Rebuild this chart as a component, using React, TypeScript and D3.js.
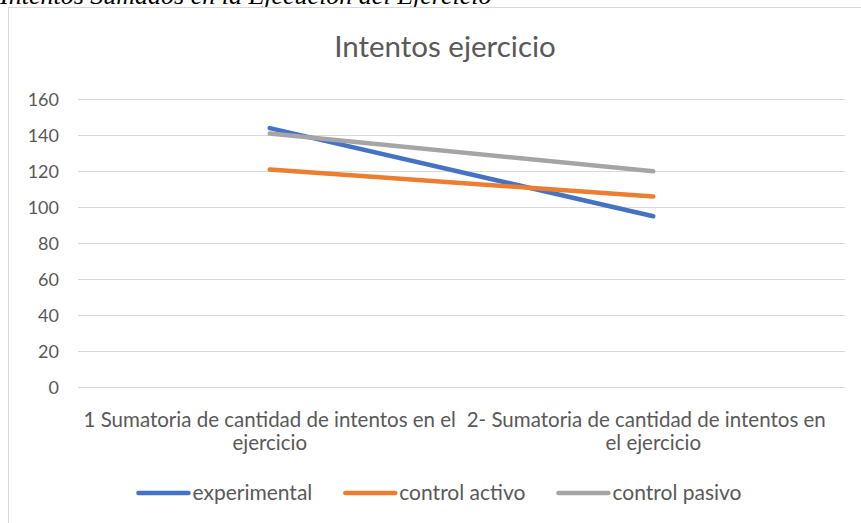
import { useRef, useEffect } from 'react';
import * as d3 from 'd3';

const W = 861;
const H = 523;

const categories = ['cat1', 'cat2'];
const categoryLines = [
  ['1 Sumatoria de cantidad de intentos en el', 'ejercicio'],
  ['2- Sumatoria de cantidad de intentos en', 'el ejercicio'],
];
const seriesNames = ['experimental', 'control activo', 'control pasivo'];
const experimental = [144, 95];
const controlActivo = [121, 106];
const controlPasivo = [141, 120];
const yTicks = [0, 20, 40, 60, 80, 100, 120, 140, 160];

const COLORS = ['#4472C4', '#ED7D31', '#A5A5A5'];
const TEXT = '#595959';
const GRID = '#d9d9d9';
const FONT = 'Lato, "Open Sans", sans-serif';

export default function App() {
  const svgRef = useRef<SVGSVGElement>(null);

  useEffect(() => {
    if (!svgRef.current) return;
    const svg = d3.select(svgRef.current);
    svg.selectAll('*').remove();

    // caption above the chart, cut off at the top
    svg.append('text')
      .attr('x', 0).attr('y', 4)
      .attr('font-family', '"Liberation Serif", "Times New Roman", serif')
      .attr('font-style', 'italic')
      .attr('font-size', 26)
      .attr('fill', '#000')
      .text('Intentos Sumados en la Ejecución del Ejercicio');

    // chart area
    svg.append('rect')
      .attr('x', 8.5).attr('y', 7.5)
      .attr('width', 900).attr('height', 600)
      .attr('fill', '#fff')
      .attr('stroke', GRID);

    const x = d3.scaleBand().domain(categories).range([78, 845]);
    const y = d3.scaleLinear().domain([0, 160]).range([387.3, 99.3]);

    // title
    svg.append('text')
      .attr('x', 445).attr('y', 57)
      .attr('text-anchor', 'middle')
      .attr('font-family', FONT)
      .attr('font-size', 29.5)
      .attr('fill', TEXT)
      .text('Intentos ejercicio');

    // gridlines
    svg.append('g')
      .selectAll('line')
      .data(yTicks)
      .join('line')
      .attr('x1', 78).attr('x2', 845)
      .attr('y1', d => Math.round(y(d)) + 0.5)
      .attr('y2', d => Math.round(y(d)) + 0.5)
      .attr('stroke', GRID);

    // y labels
    svg.append('g')
      .selectAll('text')
      .data(yTicks)
      .join('text')
      .attr('x', 59)
      .attr('y', d => y(d))
      .attr('dy', '0.35em')
      .attr('text-anchor', 'end')
      .attr('font-family', FONT)
      .attr('font-size', 18)
      .attr('fill', TEXT)
      .text(d => String(d));

    // category labels (wrapped like Excel)
    const cats = svg.append('g');
    const firstLineShift = [0, -7];
    categories.forEach((c, i) => {
      const cx = x(c)! + x.bandwidth() / 2;
      categoryLines[i].forEach((ln, j) => {
        cats.append('text')
          .attr('x', cx + (j === 0 ? firstLineShift[i] : 0))
          .attr('y', 427 + j * 23)
          .attr('text-anchor', 'middle')
          .attr('font-family', FONT)
          .attr('font-size', 20.5)
          .attr('fill', TEXT)
          .text(ln);
      });
    });

    // series lines
    const series = [experimental, controlActivo, controlPasivo];
    const line = d3.line<number>()
      .x((_, i) => x(categories[i])! + x.bandwidth() / 2)
      .y(d => y(d));
    series.forEach((vals, i) => {
      svg.append('path')
        .datum(vals)
        .attr('d', line)
        .attr('fill', 'none')
        .attr('stroke', COLORS[i])
        .attr('stroke-width', 4.5)
        .attr('stroke-linecap', 'round');
    });

    // legend
    const lineW = 50;
    const gap = 4;
    const spacing = 33;
    const legend = svg.append('g');
    const items = seriesNames.map((name, i) => {
      const g = legend.append('g');
      g.append('line')
        .attr('x1', 0).attr('x2', lineW)
        .attr('y1', 0).attr('y2', 0)
        .attr('stroke', COLORS[i])
        .attr('stroke-width', 4.5)
        .attr('stroke-linecap', 'round');
      const t = g.append('text')
        .attr('x', lineW + gap)
        .attr('dy', '0.35em')
        .attr('font-family', FONT)
        .attr('font-size', 21)
        .attr('fill', TEXT)
        .text(name);
      const tw = (t.node() as SVGTextElement).getComputedTextLength();
      return { g, w: lineW + gap + tw };
    });
    const total = d3.sum(items, d => d.w) + spacing * (items.length - 1);
    let cur = 440 - total / 2;
    items.forEach(it => {
      it.g.attr('transform', `translate(${cur},493)`);
      cur += it.w + spacing;
    });
  }, []);

  return (
    <svg
      ref={svgRef}
      width={W}
      height={H}
      style={{ position: 'absolute', left: 0, top: 0, background: '#fff' }}
    />
  );
}
